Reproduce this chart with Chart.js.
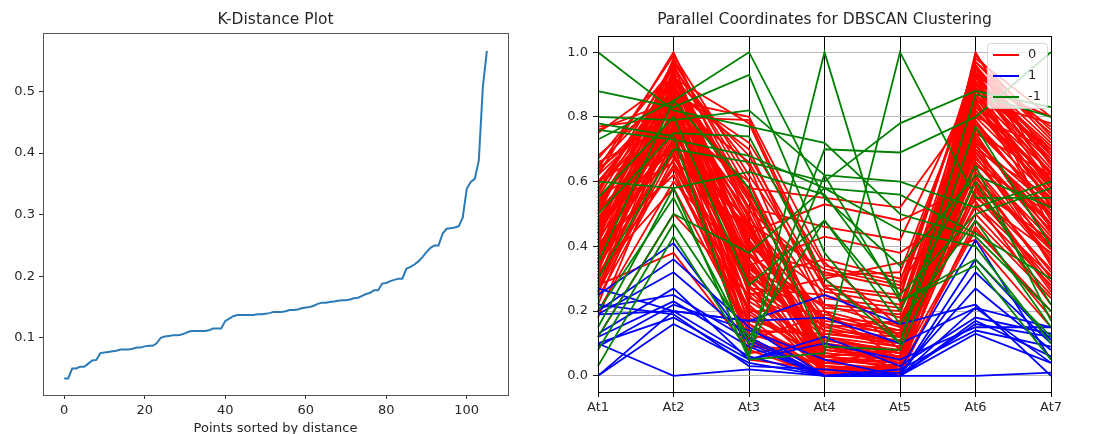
<!DOCTYPE html>
<html>
<head>
<meta charset="utf-8">
<script src="https://cdn.jsdelivr.net/npm/chart.js@4.4.1/dist/chart.umd.min.js"></script>
<style>
  body { margin: 0; background: #fff; }
  #kdist { position: absolute; left: 0; top: 0; }
  #pcoords { position: absolute; left: 540px; top: 0; }
</style>
</head>
<body>
<canvas id="kdist" width="540" height="434"></canvas>
<canvas id="pcoords" width="557" height="434"></canvas>
<script>
// ---- K-distance plot data (sorted distances, index 0..105)
const kDistances = [
  0.034, 0.034, 0.050, 0.050, 0.053, 0.053, 0.058, 0.063, 0.064, 0.075,
  0.076, 0.077, 0.078, 0.079, 0.081, 0.081, 0.081, 0.082, 0.084, 0.084,
  0.086, 0.087, 0.087, 0.091, 0.100, 0.102, 0.103, 0.104, 0.104, 0.105,
  0.107, 0.110, 0.111, 0.111, 0.111, 0.111, 0.112, 0.115, 0.115, 0.115,
  0.127, 0.131, 0.135, 0.137, 0.137, 0.137, 0.137, 0.137, 0.138, 0.138,
  0.139, 0.140, 0.142, 0.142, 0.142, 0.143, 0.145, 0.145, 0.146, 0.148,
  0.149, 0.150, 0.152, 0.155, 0.157, 0.157, 0.158, 0.159, 0.160, 0.161,
  0.161, 0.162, 0.164, 0.165, 0.168, 0.171, 0.173, 0.177, 0.177, 0.188,
  0.189, 0.192, 0.194, 0.196, 0.196, 0.212, 0.215, 0.219, 0.224, 0.231,
  0.239, 0.246, 0.250, 0.250, 0.269, 0.277, 0.278, 0.279, 0.281, 0.295,
  0.342, 0.353, 0.358, 0.388, 0.507, 0.566
];
const kTicksX = [0, 20, 40, 60, 80, 100];
const kTicksY = [0.1, 0.2, 0.3, 0.4, 0.5];

// ---- parallel coordinates data
const attrNames = ["At1", "At2", "At3", "At4", "At5", "At6", "At7"];
const pcTicksY = [0.0, 0.2, 0.4, 0.6, 0.8, 1.0];
const clusterLabels = ["0", "1", "-1"];

// cluster 0 rows: At1..At7
const cluster0 = [
  [0.77, 0.80, 0.79, 0.30, 0.12, 0.85, 0.78],
  [0.76, 0.85, 0.80, 0.35, 0.15, 0.90, 0.80],
  [0.75, 0.92, 0.78, 0.28, 0.08, 0.95, 0.75],
  [0.68, 0.88, 0.70, 0.20, 0.05, 0.80, 0.70],
  [0.67, 0.95, 0.65, 0.10, 0.02, 0.92, 0.68],
  [0.66, 0.78, 0.60, 0.05, 0.00, 0.75, 0.62],
  [0.65, 0.90, 0.55, 0.15, 0.10, 0.88, 0.66],
  [0.64, 0.82, 0.50, 0.02, 0.03, 0.70, 0.55],
  [0.62, 1.00, 0.48, 0.00, 0.01, 1.00, 0.60],
  [0.60, 0.74, 0.45, 0.08, 0.05, 0.65, 0.50],
  [0.58, 0.86, 0.42, 0.12, 0.07, 0.82, 0.58],
  [0.57, 0.93, 0.40, 0.04, 0.02, 0.93, 0.45],
  [0.55, 0.70, 0.38, 0.18, 0.12, 0.60, 0.40],
  [0.54, 0.80, 0.36, 0.06, 0.04, 0.72, 0.52],
  [0.52, 0.88, 0.35, 0.00, 0.00, 0.85, 0.48],
  [0.51, 0.76, 0.33, 0.22, 0.15, 0.68, 0.35],
  [0.50, 0.94, 0.32, 0.10, 0.06, 0.90, 0.62],
  [0.49, 0.66, 0.30, 0.03, 0.02, 0.58, 0.42],
  [0.48, 0.84, 0.29, 0.14, 0.09, 0.78, 0.55],
  [0.47, 0.90, 0.28, 0.00, 0.01, 0.96, 0.65],
  [0.46, 0.72, 0.27, 0.25, 0.18, 0.62, 0.30],
  [0.45, 0.81, 0.26, 0.07, 0.05, 0.74, 0.44],
  [0.44, 0.97, 0.25, 0.02, 0.00, 0.88, 0.70],
  [0.43, 0.68, 0.24, 0.16, 0.10, 0.55, 0.38],
  [0.42, 0.77, 0.23, 0.09, 0.04, 0.67, 0.47],
  [0.41, 0.87, 0.22, 0.01, 0.02, 0.83, 0.60],
  [0.40, 0.62, 0.20, 0.20, 0.14, 0.52, 0.28],
  [0.39, 0.79, 0.19, 0.05, 0.03, 0.71, 0.50],
  [0.38, 0.91, 0.18, 0.00, 0.00, 0.94, 0.72],
  [0.37, 0.73, 0.17, 0.11, 0.08, 0.63, 0.36],
  [0.36, 0.83, 0.16, 0.04, 0.06, 0.76, 0.53],
  [0.35, 0.95, 0.15, 0.02, 0.01, 0.98, 0.80],
  [0.34, 0.69, 0.14, 0.13, 0.11, 0.57, 0.33],
  [0.33, 0.78, 0.13, 0.06, 0.02, 0.69, 0.45],
  [0.32, 0.86, 0.12, 0.00, 0.04, 0.80, 0.57],
  [0.31, 0.64, 0.11, 0.19, 0.13, 0.50, 0.25],
  [0.30, 0.75, 0.10, 0.03, 0.00, 0.66, 0.40],
  [0.29, 0.89, 0.09, 0.08, 0.05, 0.87, 0.63],
  [0.28, 0.38, 0.08, 0.00, 0.02, 0.45, 0.20],
  [0.27, 0.71, 0.07, 0.10, 0.07, 0.60, 0.32],
  [0.26, 0.82, 0.30, 0.36, 0.30, 0.73, 0.46],
  [0.25, 0.93, 0.52, 0.46, 0.42, 0.91, 0.67],
  [0.24, 0.67, 0.44, 0.53, 0.48, 0.59, 0.27],
  [0.22, 0.80, 0.58, 0.55, 0.52, 0.84, 0.54],
  [0.20, 0.60, 0.34, 0.43, 0.38, 0.54, 0.22],
  [0.18, 0.74, 0.47, 0.33, 0.28, 0.64, 0.37],
  [0.12, 0.50, 0.25, 0.30, 0.35, 0.42, 0.15],
  [0.64, 0.99, 0.62, 0.28, 0.25, 0.97, 0.76],
  [0.59, 0.91, 0.56, 0.22, 0.20, 0.89, 0.69],
  [0.53, 0.85, 0.49, 0.18, 0.16, 0.81, 0.61],
  [0.50, 0.79, 0.43, 0.26, 0.22, 0.77, 0.51],
  [0.46, 0.96, 0.39, 0.32, 0.27, 0.95, 0.66],
  [0.43, 0.87, 0.37, 0.21, 0.19, 0.86, 0.59],
  [0.40, 0.73, 0.31, 0.12, 0.09, 0.70, 0.43],
  [0.36, 0.90, 0.41, 0.17, 0.14, 0.90, 0.64],
  [0.33, 0.83, 0.35, 0.09, 0.06, 0.79, 0.49],
  [0.30, 0.65, 0.21, 0.05, 0.03, 0.56, 0.29],
  [0.28, 0.77, 0.27, 0.14, 0.12, 0.75, 0.41],
  [0.62, 0.84, 0.66, 0.24, 0.21, 0.92, 0.71],
  [0.56, 0.97, 0.60, 0.13, 0.10, 0.99, 0.74],
  [0.48, 0.70, 0.46, 0.07, 0.05, 0.61, 0.39],
  [0.44, 0.89, 0.54, 0.01, 0.00, 0.87, 0.58],
  [0.38, 0.81, 0.50, 0.00, 0.03, 0.82, 0.56],
  [0.35, 0.76, 0.05, 0.02, 0.01, 0.72, 0.34],
  [0.60, 0.88, 0.72, 0.34, 0.29, 0.93, 0.77],
  [0.55, 0.92, 0.68, 0.27, 0.24, 0.97, 0.73],
  [0.52, 0.66, 0.20, 0.04, 0.08, 0.53, 0.31],
  [0.41, 0.62, 0.16, 0.00, 0.00, 0.48, 0.24],
  [0.32, 0.58, 0.14, 0.06, 0.04, 0.46, 0.18],
  [0.26, 0.69, 0.11, 0.03, 0.02, 0.58, 0.26],
  [0.45, 0.98, 0.57, 0.11, 0.07, 0.96, 0.68],
  [0.39, 0.86, 0.46, 0.16, 0.13, 0.85, 0.53],
  [0.58, 0.83, 0.52, 0.03, 0.01, 0.84, 0.63],
  [0.53, 0.90, 0.47, 0.01, 0.02, 0.91, 0.59],
  [0.49, 0.77, 0.44, 0.05, 0.04, 0.78, 0.50],
  [0.47, 0.86, 0.41, 0.00, 0.03, 0.86, 0.56],
  [0.42, 0.93, 0.38, 0.02, 0.00, 0.94, 0.62],
  [0.37, 0.80, 0.34, 0.08, 0.06, 0.73, 0.47],
  [0.34, 0.88, 0.31, 0.00, 0.01, 0.89, 0.52],
  [0.31, 0.72, 0.28, 0.04, 0.05, 0.66, 0.42],
  [0.57, 0.96, 0.55, 0.00, 0.02, 0.93, 0.66],
  [0.63, 0.87, 0.45, 0.06, 0.08, 0.83, 0.61],
  [0.44, 0.79, 0.33, 0.15, 0.17, 0.69, 0.39],
  [0.51, 0.92, 0.51, 0.31, 0.32, 0.92, 0.70]
];

// cluster 1
const cluster1 = [
  [0.00, 0.16, 0.04, 0.00, 0.00, 0.13, 0.04],
  [0.10, 0.00, 0.02, 0.00, 0.00, 0.00, 0.01],
  [0.00, 0.20, 0.06, 0.00, 0.00, 0.16, 0.12],
  [0.27, 0.20, 0.17, 0.18, 0.10, 0.21, 0.15],
  [0.25, 0.41, 0.10, 0.00, 0.02, 0.42, 0.05],
  [0.20, 0.36, 0.15, 0.00, 0.00, 0.32, 0.10],
  [0.19, 0.20, 0.17, 0.25, 0.16, 0.22, 0.00],
  [0.19, 0.32, 0.12, 0.00, 0.01, 0.27, 0.08],
  [0.13, 0.27, 0.05, 0.12, 0.03, 0.18, 0.13],
  [0.12, 0.23, 0.09, 0.00, 0.00, 0.17, 0.06],
  [0.10, 0.18, 0.05, 0.10, 0.05, 0.15, 0.15],
  [0.21, 0.25, 0.11, 0.00, 0.02, 0.14, 0.09],
  [0.09, 0.22, 0.14, 0.05, 0.00, 0.21, 0.04],
  [0.22, 0.19, 0.03, 0.02, 0.00, 0.36, 0.11]
];

// noise (-1)
const clusterNoise = [
  [1.00, 0.82, 0.77, 0.72, 0.50, 0.43, 0.20],
  [0.88, 0.83, 0.93, 0.38, 0.10, 0.87, 0.80],
  [0.80, 0.79, 0.82, 0.62, 0.60, 0.52, 0.60],
  [0.78, 0.74, 0.06, 1.00, 0.23, 0.36, 0.12],
  [0.60, 0.58, 0.05, 0.07, 1.00, 0.55, 0.55],
  [0.30, 0.70, 0.66, 0.60, 0.78, 0.88, 0.83],
  [0.20, 0.55, 0.10, 0.70, 0.69, 0.80, 1.00],
  [0.12, 0.50, 0.38, 0.58, 0.56, 0.44, 0.30],
  [0.08, 0.47, 0.12, 0.48, 0.20, 0.65, 0.17],
  [0.03, 0.43, 0.07, 0.62, 0.23, 0.34, 0.05],
  [0.15, 0.58, 0.63, 0.56, 0.25, 0.50, 0.58],
  [0.50, 0.75, 0.74, 0.30, 0.10, 0.77, 0.40],
  [0.76, 0.73, 0.68, 0.58, 0.45, 0.40, 0.10],
  [0.35, 0.85, 0.58, 0.09, 0.08, 0.60, 0.22],
  [0.55, 0.80, 0.28, 0.48, 0.16, 0.48, 0.15],
  [0.73, 0.85, 1.00, 0.55, 0.34, 0.62, 0.52]
];

const FONT = "DejaVu Sans";
const TEXT = "#262626";

// box round the plot area, like matplotlib spines
const framePlugin = {
  id: "frame",
  afterDraw(chart, args, opts) {
    const { ctx, chartArea: a } = chart;
    ctx.save();
    ctx.strokeStyle = opts.color || "#000";
    ctx.lineWidth = 1;
    ctx.strokeRect(Math.round(a.left) + 0.5, Math.round(a.top) + 0.5,
      Math.round(a.right - a.left), Math.round(a.bottom - a.top));
    ctx.restore();
  }
};

// legend drawn inside the upper right corner
const cornerLegend = {
  id: "cornerLegend",
  afterDraw(chart) {
    const { ctx, chartArea: a } = chart;
    const w = 60, h = 65;
    const x = a.right - 4 - w, y = a.top + 7;
    ctx.save();
    ctx.fillStyle = "rgba(255,255,255,0.8)";
    ctx.strokeStyle = "rgba(204,204,204,0.8)";
    ctx.lineWidth = 1;
    ctx.beginPath();
    ctx.roundRect(x + 0.5, y + 0.5, w, h, 3);
    ctx.fill();
    ctx.stroke();
    ctx.font = "13px '" + FONT + "'";
    ctx.textBaseline = "middle";
    clusterLabels.forEach((lab, i) => {
      const ds = chart.data.datasets.find(d => d.label === lab);
      const cy = y + 12 + i * 21;
      ctx.strokeStyle = ds.borderColor;
      ctx.lineWidth = 2;
      ctx.beginPath();
      ctx.moveTo(x + 6, cy);
      ctx.lineTo(x + 32, cy);
      ctx.stroke();
      ctx.fillStyle = TEXT;
      ctx.fillText(lab, x + 41, cy);
    });
    ctx.restore();
  }
};

Chart.defaults.font.family = FONT;
Chart.defaults.color = TEXT;

// ---------- left: K-distance plot
new Chart(document.getElementById("kdist"), {
  type: "line",
  data: {
    datasets: [{
      data: kDistances.map((v, i) => ({ x: i, y: v })),
      borderColor: "#2c7bb6",
      borderWidth: 2,
      pointRadius: 0,
      tension: 0
    }]
  },
  options: {
    responsive: false,
    animation: false,
    events: [],
    layout: { padding: { left: 0, right: 32, top: 0, bottom: 0 } },
    scales: {
      x: {
        type: "linear",
        min: -5.25,
        max: 110.25,
        afterBuildTicks: s => { s.ticks = kTicksX.map(v => ({ value: v })); },
        afterFit: s => { s.height = 39; },
        ticks: { font: { size: 13 }, padding: 4, maxRotation: 0, callback: v => String(v) },
        grid: { drawOnChartArea: false, tickLength: 4, tickColor: "#333" },
        border: { color: "#555" },
        title: {
          display: true,
          text: "Points sorted by distance",
          font: { size: 13 },
          padding: { top: 0, bottom: -2 }
        }
      },
      y: {
        min: 0.007,
        max: 0.595,
        afterBuildTicks: s => { s.ticks = kTicksY.map(v => ({ value: v })); },
        afterFit: s => { s.width = 43; },
        ticks: { font: { size: 13 }, padding: 4, callback: v => v.toFixed(1) },
        grid: { drawOnChartArea: false, tickLength: 4, tickColor: "#333" },
        border: { color: "#555" }
      }
    },
    plugins: {
      legend: { display: false },
      tooltip: { enabled: false },
      title: {
        display: true,
        text: "K-Distance Plot",
        fullSize: false,
        font: { size: 15.5, weight: "normal" },
        color: TEXT,
        padding: { top: 11, bottom: 3.4 }
      },
      frame: { color: "#555" }
    }
  },
  plugins: [framePlugin]
});

// ---------- right: parallel coordinates
const groups = [
  { rows: cluster0, label: clusterLabels[0], color: "#ff0000", order: 3 },
  { rows: cluster1, label: clusterLabels[1], color: "#0000ff", order: 2 },
  { rows: clusterNoise, label: clusterLabels[2], color: "#008000", order: 1 }
];
const pcDatasets = [];
groups.forEach(g => {
  g.rows.forEach(row => {
    pcDatasets.push({
      label: g.label,
      data: row,
      borderColor: g.color,
      borderWidth: 1.8,
      pointRadius: 0,
      tension: 0,
      order: g.order
    });
  });
});

new Chart(document.getElementById("pcoords"), {
  type: "line",
  data: { labels: attrNames, datasets: pcDatasets },
  options: {
    responsive: false,
    animation: false,
    events: [],
    layout: { padding: { left: 0, right: 46, top: 0, bottom: 0 } },
    scales: {
      x: {
        type: "category",
        offset: false,
        afterFit: s => { s.height = 42; },
        ticks: { font: { size: 13 }, padding: 3, maxRotation: 0, autoSkip: false },
        grid: { color: "#000", lineWidth: 1, tickLength: 5, tickColor: "#000", offset: false },
        border: { color: "#000" }
      },
      y: {
        min: -0.05,
        max: 1.05,
        afterBuildTicks: s => { s.ticks = pcTicksY.map(v => ({ value: v })); },
        afterFit: s => { s.width = 58; },
        ticks: { font: { size: 13 }, padding: 5, callback: v => v.toFixed(1) },
        grid: { color: "#b0b0b0", lineWidth: 0.9, tickLength: 5, tickColor: "#000" },
        border: { color: "#000" }
      }
    },
    plugins: {
      legend: { display: false },
      tooltip: { enabled: false },
      title: {
        display: true,
        text: "Parallel Coordinates for DBSCAN Clustering",
        fullSize: false,
        font: { size: 15.5, weight: "normal" },
        color: TEXT,
        padding: { top: 11, bottom: 6.4 }
      },
      frame: { color: "#000" }
    }
  },
  plugins: [framePlugin, cornerLegend]
});
</script>
</body>
</html>
